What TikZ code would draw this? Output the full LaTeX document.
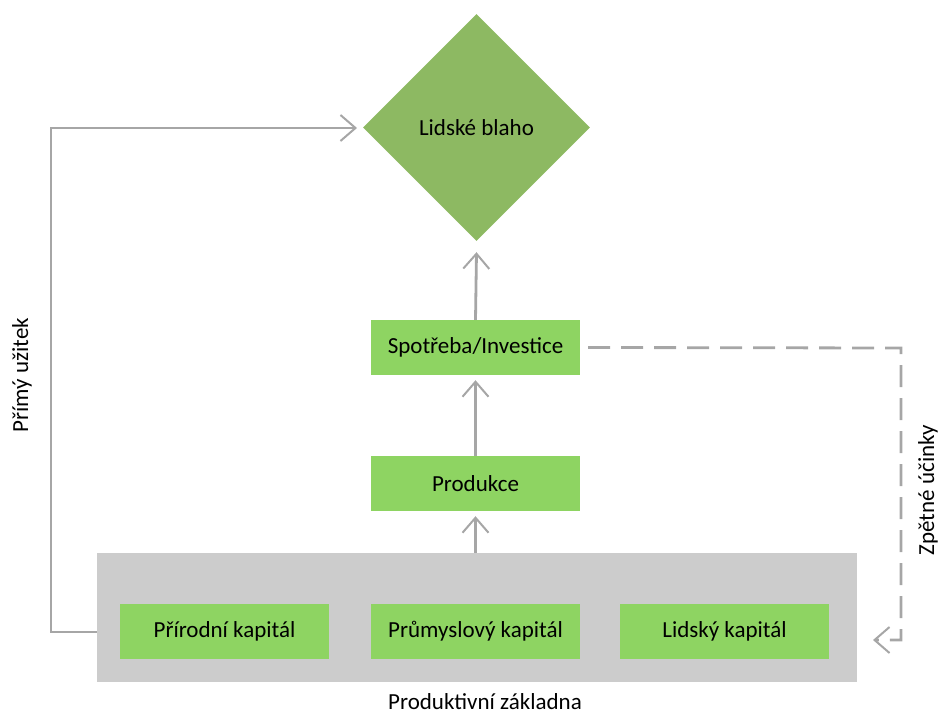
\documentclass[tikz,border=0pt]{standalone}
\usepackage{fontspec}
\setmainfont{Carlito}
\usetikzlibrary{arrows.meta,shapes.geometric}
\definecolor{boxgreen}{HTML}{8ED462}
\definecolor{diagreen}{HTML}{8DB962}
\definecolor{basegray}{HTML}{CCCCCC}
\definecolor{linegray}{HTML}{A6A6A6}
\tikzset{
  greenbox/.style={fill=boxgreen, minimum width=209pt, minimum height=55pt, inner sep=0pt, font=\fontsize{23}{27}\selectfont},
  conn/.style={draw=linegray, line width=2.8pt, -{Straight Barb[length=15pt, width=26pt, line width=2pt]}},
  lbl/.style={font=\fontsize{23}{27}\selectfont}
}
\begin{document}
\begin{tikzpicture}[x=1pt,y=-1pt]
\useasboundingbox (0,0) rectangle (939,715);
\node[diamond, fill=diagreen, minimum width=227pt, minimum height=227pt, inner sep=0pt, font=\fontsize{23}{27}\selectfont] (blaho) at (476.5,127.5) {Lidské blaho};
\node[greenbox] (spot) at (475.5,347.5) {Spotřeba/Investice};
\node[greenbox] (prod) at (475.5,483.5) {Produkce};
\node[fill=basegray, minimum width=760pt, minimum height=129pt, inner sep=0pt] (base) at (477,617.5) {};
\node[greenbox] (prir) at (224.5,631.5) {Přírodní kapitál};
\node[greenbox] (prum) at (475.5,631.5) {Průmyslový kapitál};
\node[greenbox] (lid) at (724.5,631.5) {Lidský kapitál};
\node[lbl] (zakl) at (485,702) {Produktivní základna};
\coordinate (tl) at (51,632);
\coordinate (tr) at (51,128);
\coordinate (dr) at (901,348);
\coordinate (db) at (901,640);
\coordinate (dend) at (873,640);
\coordinate (blahoL) at (357,128);
\draw[conn] (base.north -| prod.south) -- ([yshift=-5pt]prod.south);
\draw[conn] (prod.north) -- ([yshift=-5pt]spot.south);
\draw[conn] (spot.north) -- ([yshift=-11pt]blaho.south);
\draw[conn] (base.west |- tl) -- (tl) -- (tr) -- (blahoL);
\draw[conn, dash pattern=on 22pt off 11pt] ([xshift=8pt]spot.east) -- (dr) -- (db) -- (dend);
\node[lbl, rotate=90] (primy) at (22,375) {Přímý užitek};
\node[lbl, rotate=90] (zpet) at (928,490) {Zpětné účinky};
\end{tikzpicture}
\end{document}
